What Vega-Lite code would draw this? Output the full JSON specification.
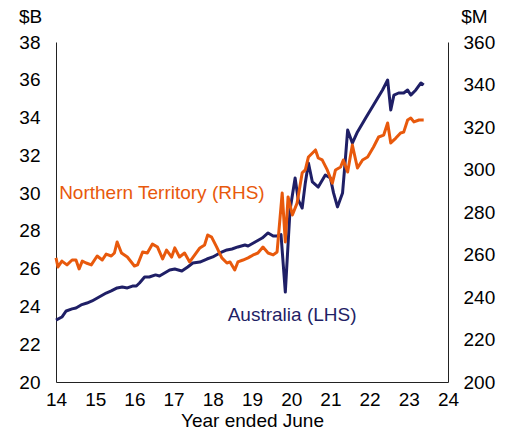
{
  "$schema": "https://vega.github.io/schema/vega-lite/v6.json",
  "width": 392,
  "height": 340,
  "autosize": "none",
  "padding": {"left": 56, "top": 42, "right": 64, "bottom": 54},
  "config": {
    "view": {"stroke": null},
    "font": "Liberation Sans",
    "axis": {
      "grid": false,
      "ticks": false,
      "domainColor": "#222222",
      "domainWidth": 1,
      "labelOverlap": false,
      "labelFont": "Liberation Sans",
      "labelFontSize": 19,
      "labelColor": "#000000",
      "titleFont": "Liberation Sans",
      "titleFontSize": 19,
      "titleFontWeight": "normal",
      "titleColor": "#000000"
    }
  },
  "datasets": {
    "aus": [
      {"year": 14.00, "value": 23.28}, {"year": 14.15, "value": 23.44}, {"year": 14.26, "value": 23.76},
      {"year": 14.41, "value": 23.87}, {"year": 14.51, "value": 23.92}, {"year": 14.64, "value": 24.08},
      {"year": 14.79, "value": 24.18}, {"year": 14.92, "value": 24.29}, {"year": 15.10, "value": 24.50},
      {"year": 15.28, "value": 24.71}, {"year": 15.41, "value": 24.82}, {"year": 15.56, "value": 24.98},
      {"year": 15.69, "value": 25.03}, {"year": 15.82, "value": 24.98}, {"year": 15.95, "value": 25.08},
      {"year": 16.05, "value": 25.08}, {"year": 16.13, "value": 25.24}, {"year": 16.26, "value": 25.56},
      {"year": 16.38, "value": 25.56}, {"year": 16.54, "value": 25.67}, {"year": 16.64, "value": 25.61},
      {"year": 16.77, "value": 25.77}, {"year": 16.90, "value": 25.93}, {"year": 17.03, "value": 25.98},
      {"year": 17.21, "value": 25.88}, {"year": 17.36, "value": 26.09}, {"year": 17.49, "value": 26.30},
      {"year": 17.67, "value": 26.35}, {"year": 17.85, "value": 26.51}, {"year": 18.00, "value": 26.62},
      {"year": 18.18, "value": 26.83}, {"year": 18.36, "value": 26.99}, {"year": 18.49, "value": 27.04},
      {"year": 18.64, "value": 27.15}, {"year": 18.82, "value": 27.25}, {"year": 18.90, "value": 27.20},
      {"year": 19.08, "value": 27.41}, {"year": 19.26, "value": 27.62}, {"year": 19.41, "value": 27.89},
      {"year": 19.54, "value": 27.73}, {"year": 19.64, "value": 27.73}, {"year": 19.74, "value": 27.80},
      {"year": 19.85, "value": 24.76}, {"year": 19.97, "value": 29.11}, {"year": 20.10, "value": 30.80},
      {"year": 20.18, "value": 29.64}, {"year": 20.28, "value": 29.21}, {"year": 20.36, "value": 30.54},
      {"year": 20.44, "value": 31.59}, {"year": 20.54, "value": 30.59}, {"year": 20.69, "value": 30.32},
      {"year": 20.87, "value": 30.96}, {"year": 21.00, "value": 30.80}, {"year": 21.08, "value": 30.01},
      {"year": 21.18, "value": 29.27}, {"year": 21.31, "value": 30.01}, {"year": 21.38, "value": 31.75},
      {"year": 21.44, "value": 33.34}, {"year": 21.56, "value": 32.65}, {"year": 21.69, "value": 33.24},
      {"year": 21.90, "value": 33.98}, {"year": 22.10, "value": 34.67}, {"year": 22.33, "value": 35.46},
      {"year": 22.46, "value": 35.99}, {"year": 22.54, "value": 34.40}, {"year": 22.62, "value": 35.19},
      {"year": 22.74, "value": 35.30}, {"year": 22.87, "value": 35.30}, {"year": 22.97, "value": 35.46},
      {"year": 23.05, "value": 35.19}, {"year": 23.18, "value": 35.46}, {"year": 23.31, "value": 35.83},
      {"year": 23.38, "value": 35.72}
    ],
    "nt": [
      {"year": 14.00, "value": 258.4}, {"year": 14.05, "value": 254.1}, {"year": 14.15, "value": 256.9},
      {"year": 14.28, "value": 255.1}, {"year": 14.41, "value": 257.4}, {"year": 14.51, "value": 257.4},
      {"year": 14.59, "value": 253.2}, {"year": 14.67, "value": 256.9}, {"year": 14.77, "value": 256.0},
      {"year": 14.90, "value": 255.1}, {"year": 15.05, "value": 259.3}, {"year": 15.18, "value": 257.4},
      {"year": 15.28, "value": 260.2}, {"year": 15.41, "value": 259.3}, {"year": 15.49, "value": 260.7},
      {"year": 15.56, "value": 265.9}, {"year": 15.67, "value": 260.7}, {"year": 15.82, "value": 258.8},
      {"year": 16.00, "value": 254.6}, {"year": 16.08, "value": 255.1}, {"year": 16.21, "value": 261.2},
      {"year": 16.33, "value": 260.7}, {"year": 16.46, "value": 264.9}, {"year": 16.59, "value": 263.5},
      {"year": 16.72, "value": 257.9}, {"year": 16.82, "value": 262.1}, {"year": 16.95, "value": 258.8},
      {"year": 17.03, "value": 263.1}, {"year": 17.15, "value": 258.8}, {"year": 17.28, "value": 260.7},
      {"year": 17.41, "value": 256.5}, {"year": 17.54, "value": 259.8}, {"year": 17.67, "value": 263.1},
      {"year": 17.79, "value": 264.5}, {"year": 17.87, "value": 269.2}, {"year": 17.97, "value": 268.2},
      {"year": 18.10, "value": 263.5}, {"year": 18.23, "value": 258.4}, {"year": 18.36, "value": 256.0},
      {"year": 18.44, "value": 256.5}, {"year": 18.56, "value": 252.7}, {"year": 18.64, "value": 256.5},
      {"year": 18.77, "value": 257.4}, {"year": 18.90, "value": 258.4}, {"year": 19.03, "value": 259.8},
      {"year": 19.15, "value": 260.7}, {"year": 19.28, "value": 263.5}, {"year": 19.41, "value": 260.7},
      {"year": 19.54, "value": 259.8}, {"year": 19.64, "value": 261.2}, {"year": 19.77, "value": 288.9},
      {"year": 19.85, "value": 265.9}, {"year": 19.92, "value": 287.1}, {"year": 20.03, "value": 278.6},
      {"year": 20.15, "value": 284.2}, {"year": 20.28, "value": 298.4}, {"year": 20.36, "value": 299.8},
      {"year": 20.44, "value": 305.9}, {"year": 20.62, "value": 309.2}, {"year": 20.69, "value": 305.4},
      {"year": 20.79, "value": 304.5}, {"year": 20.92, "value": 299.8}, {"year": 21.05, "value": 293.6},
      {"year": 21.13, "value": 299.8}, {"year": 21.26, "value": 301.2}, {"year": 21.33, "value": 304.5},
      {"year": 21.44, "value": 298.8}, {"year": 21.56, "value": 311.5}, {"year": 21.69, "value": 300.7},
      {"year": 21.82, "value": 304.5}, {"year": 21.95, "value": 305.9}, {"year": 22.10, "value": 310.6},
      {"year": 22.23, "value": 315.3}, {"year": 22.36, "value": 316.2}, {"year": 22.46, "value": 321.9},
      {"year": 22.54, "value": 312.5}, {"year": 22.67, "value": 314.8}, {"year": 22.79, "value": 317.2},
      {"year": 22.87, "value": 317.6}, {"year": 22.97, "value": 323.3}, {"year": 23.05, "value": 324.2},
      {"year": 23.13, "value": 322.4}, {"year": 23.26, "value": 323.3}, {"year": 23.38, "value": 323.3}
    ],
    "labels": [
      {"label": "Northern Territory (RHS)", "series": "NT", "year": 14.08, "value": 30.0},
      {"label": "Australia (LHS)", "series": "AUS", "year": 18.38, "value": 23.55}
    ]
  },
  "layer": [
    {
      "layer": [
        {
          "data": {"name": "aus"},
          "mark": {"type": "line", "color": "#1f1f66", "strokeWidth": 3, "strokeJoin": "round"},
          "encoding": {
            "x": {
              "field": "year", "type": "quantitative",
              "scale": {"domain": [14, 24], "nice": false, "zero": false},
              "axis": {"values": [14, 15, 16, 17, 18, 19, 20, 21, 22, 23, 24], "format": "d", "labelPadding": 8, "title": "Year ended June", "titlePadding": 2, "labelFlush": false}
            },
            "y": {
              "field": "value", "type": "quantitative",
              "scale": {"domain": [20, 38], "nice": false, "zero": false},
              "axis": {"orient": "left", "values": [20, 22, 24, 26, 28, 30, 32, 34, 36, 38], "format": "d", "labelPadding": 16, "labelFlush": false, "title": "$B", "titleAngle": 0, "titleAlign": "center", "titleBaseline": "middle", "titleX": -26, "titleY": -26}
            }
          }
        },
        {
          "data": {"name": "labels"},
          "mark": {"type": "text", "fontSize": 19, "align": "left", "baseline": "middle", "font": "Liberation Sans"},
          "encoding": {
            "x": {
              "field": "year", "type": "quantitative",
              "axis": {"values": [14, 15, 16, 17, 18, 19, 20, 21, 22, 23, 24], "format": "d", "labelPadding": 8, "title": "Year ended June", "titlePadding": 2, "labelFlush": false}
            },
            "y": {
              "field": "value", "type": "quantitative",
              "axis": {"orient": "left", "values": [20, 22, 24, 26, 28, 30, 32, 34, 36, 38], "format": "d", "labelPadding": 16, "labelFlush": false, "title": "$B", "titleAngle": 0, "titleAlign": "center", "titleBaseline": "middle", "titleX": -26, "titleY": -26}
            },
            "text": {"field": "label"},
            "color": {"field": "series", "type": "nominal", "scale": {"domain": ["NT", "AUS"], "range": ["#e8590c", "#1f1f66"]}, "legend": null}
          }
        }
      ]
    },
    {
      "data": {"name": "nt"},
      "mark": {"type": "line", "color": "#e8590c", "strokeWidth": 3, "strokeJoin": "round"},
      "encoding": {
        "x": {
          "field": "year", "type": "quantitative",
          "axis": {"values": [14, 15, 16, 17, 18, 19, 20, 21, 22, 23, 24], "format": "d", "labelPadding": 8, "title": "Year ended June", "titlePadding": 2, "labelFlush": false}
        },
        "y": {
          "field": "value", "type": "quantitative",
          "scale": {"domain": [200, 360], "nice": false, "zero": false},
          "axis": {"orient": "right", "values": [200, 220, 240, 260, 280, 300, 320, 340, 360], "labelPadding": 15, "labelFlush": false, "title": "$M", "titleAngle": 0, "titleAlign": "center", "titleBaseline": "middle", "titleX": 26, "titleY": -26}
        }
      }
    }
  ],
  "resolve": {"scale": {"y": "independent"}}
}
